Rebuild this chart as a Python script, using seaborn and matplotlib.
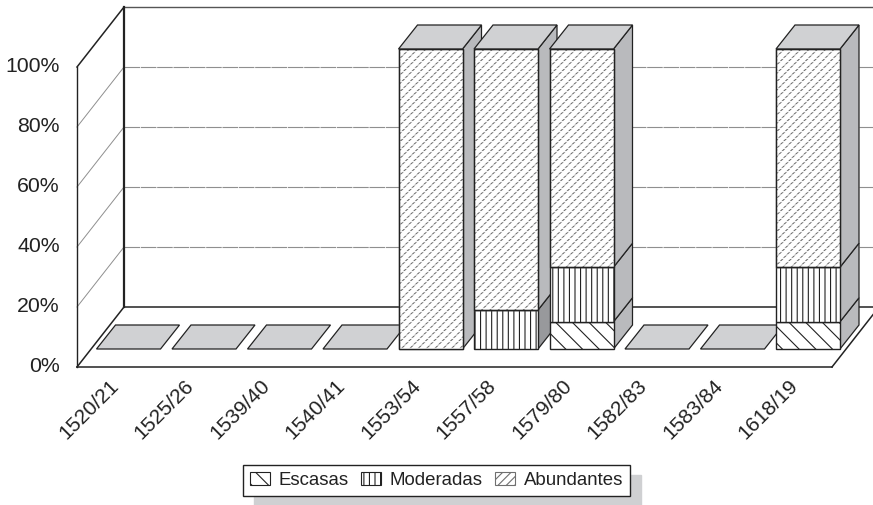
import matplotlib
matplotlib.use("Agg")
import matplotlib.pyplot as plt
import numpy as np
import pandas as pd
import seaborn as sns
from matplotlib.patches import Patch, Polygon, Rectangle
from matplotlib.transforms import Affine2D

# Data
periods = ["1520/21", "1525/26", "1539/40", "1540/41", "1553/54",
           "1557/58", "1579/80", "1582/83", "1583/84", "1618/19"]
escasas = [0, 0, 0, 0, 0, 0, 9.09, 0, 0, 9.09]
moderadas = [0, 0, 0, 0, 0, 13, 18.18, 0, 0, 18.18]
abundantes = [0, 0, 0, 0, 100, 87, 72.73, 0, 0, 72.73]
series_names = ["Escasas", "Moderadas", "Abundantes"]
ytick_values = [0, 20, 40, 60, 80, 100]

# Styling
INK = "#222222"
TOP_FACE = "#d0d1d3"
SIDE_FACE = "#b9babd"
SIDE_DARK = "#98999c"
GRID = "#8f8f8f"
DASH_GREY = "#6f6f6f"
HATCHES = {"Escasas": "\\\\", "Moderadas": "|||", "Abundantes": "////"}
EDGES = {"Escasas": INK, "Moderadas": INK, "Abundantes": DASH_GREY}

sns.set_theme(style="white")
plt.rcParams["font.family"] = ["Liberation Sans", "DejaVu Sans"]
plt.rcParams["hatch.linewidth"] = 0.8

W, H = 873, 505
fig = plt.figure(figsize=(W / 100, H / 100), dpi=100, facecolor="white")
ax = fig.add_axes([77 / W, (H - 367) / H, 755 / W, 300 / H])

PX_X = 10 / 755   # one pixel in x data units
PX_Y = 100 / 300  # one pixel in y data units


def shifted(x, y, dx, dy):
    return x + dx * PX_X, y + dy * PX_Y


def wall_line(x0, y0, x1, y1, **kw):
    kw.setdefault("clip_on", False)
    ax.plot([x0, x1], [y0, y1], solid_capstyle="projecting", **kw)


# Chart box: back wall, side wall and floor
WALL_DX, WALL_DY = 47, 60
left, right = -0.5, 9.5
for v in ytick_values[1:-1]:
    bx0, by0 = shifted(left, v, WALL_DX, WALL_DY)
    bx1, _ = shifted(right, v, WALL_DX, WALL_DY)
    wall_line(left, v, bx0, by0, color=GRID, lw=0.7, zorder=1)
    wall_line(bx0, by0, bx1, by0, color=GRID, lw=0.8, ls=(0, (14, 0.7)), zorder=1)
bx0, btop = shifted(left, 100, WALL_DX, WALL_DY)
bx1, bbot = shifted(right, 0, WALL_DX, WALL_DY)
wall_line(left, 100, bx0, btop, color=INK, lw=1.1, zorder=1.5)
wall_line(bx0, btop, bx1, btop, color="#555555", lw=1.0, zorder=1.5)
wall_line(bx0, btop, bx0, bbot, color=INK, lw=1.6, zorder=1.5)
wall_line(bx0, bbot, bx1, bbot, color=INK, lw=1.1, zorder=1.5)
wall_line(left, 0, left, 100, color=INK, lw=1.0, zorder=1.5)
wall_line(left, 0, bx0, bbot, color=INK, lw=1.1, zorder=1.5)
wall_line(left, 0, right, 0, color=INK, lw=1.1, zorder=1.5)
wall_line(right, 0, bx1, bbot, color=INK, lw=1.1, zorder=1.5)

# Stacked bars
frame = pd.DataFrame({"period": periods, "Escasas": escasas,
                      "Moderadas": moderadas, "Abundantes": abundantes})
FRONT_DX, FRONT_DY = 13.75, 18
DEPTH_DX, DEPTH_DY = 19, 24
bar_width = 64 / 75.5
bar_shift = Affine2D().translate(FRONT_DX, FRONT_DY)
base = np.zeros(len(periods))
segments = []
for name in series_names:
    before = len(ax.patches)
    sns.barplot(data=frame, x="period", y=name, bottom=base, order=periods,
                width=bar_width, color="white", saturation=1, ax=ax,
                edgecolor=EDGES[name], linewidth=1.0, hatch=HATCHES[name],
                errorbar=None, zorder=3)
    for i, patch in enumerate(ax.patches[before:]):
        segments.append((i, name, patch))
    base = base + np.asarray(frame[name], dtype=float)

ax.set_xlim(left, right)
ax.set_ylim(0, 100)

for i, name, patch in segments:
    layer = 3 + i * 0.1
    x0, w = patch.get_x(), patch.get_width()
    y0, h = patch.get_y(), patch.get_height()
    patch.set_transform(ax.transData + bar_shift)
    patch.set_clip_on(False)
    patch.set_zorder(layer + 0.05)
    if h == 0:
        patch.set_visible(False)
        continue
    if name == "Abundantes":
        # white rows break the diagonal lines into short dashes
        ax.add_patch(Rectangle((x0, y0), w, h, facecolor="none", edgecolor="white",
                               hatch="-----", lw=0, clip_on=False,
                               transform=ax.transData + bar_shift, zorder=layer + 0.06))
        ax.add_patch(Rectangle((x0, y0), w, h, facecolor="none", edgecolor=INK, lw=1.0,
                               clip_on=False, transform=ax.transData + bar_shift,
                               zorder=layer + 0.07))
    # side face of the segment
    fx, fy0 = shifted(x0 + w, y0, FRONT_DX, FRONT_DY)
    _, fy1 = shifted(x0 + w, y0 + h, FRONT_DX, FRONT_DY)
    sx, sy0 = shifted(fx, fy0, DEPTH_DX, DEPTH_DY)
    _, sy1 = shifted(fx, fy1, DEPTH_DX, DEPTH_DY)
    shade = SIDE_DARK if (periods[i] == "1557/58" and name == "Moderadas") else SIDE_FACE
    ax.add_patch(Polygon([(fx, fy0), (sx, sy0), (sx, sy1), (fx, fy1)], closed=True,
                         facecolor=shade, edgecolor=INK, lw=0.9, clip_on=False,
                         zorder=layer + 0.02))

# Top face of each stack (flat plates for the empty periods)
for i, total in enumerate(base):
    x0, y0 = shifted(i - bar_width / 2, total, FRONT_DX, FRONT_DY)
    x1, _ = shifted(i + bar_width / 2, total, FRONT_DX, FRONT_DY)
    bx, by = shifted(x0, y0, DEPTH_DX, DEPTH_DY)
    bx2, _ = shifted(x1, y0, DEPTH_DX, DEPTH_DY)
    ax.add_patch(Polygon([(x0, y0), (x1, y0), (bx2, by), (bx, by)], closed=True,
                         facecolor=TOP_FACE, edgecolor=INK, lw=0.9, clip_on=False,
                         zorder=3 + i * 0.1 + 0.03))

# Axes and labels
sns.despine(ax=ax, left=True, bottom=True, top=True, right=True)
ax.set_xlabel("")
ax.set_ylabel("")
ax.patch.set_alpha(0)
ax.set_yticks(ytick_values)
ax.set_yticklabels([f"{v}%" for v in ytick_values], fontsize=15.3, color=INK)
ax.tick_params(axis="y", length=0, pad=12.5)
ax.tick_params(axis="x", length=0, pad=6.5)
ax.set_xticks(range(len(periods)))
ax.set_xticklabels(periods, rotation=45, ha="right", rotation_mode="anchor",
                   fontsize=15, color=INK)
for label in ax.get_yticklabels():
    label.set_transform(label.get_transform() + Affine2D().translate(0, 3))
for label in ax.get_xticklabels():
    label.set_transform(label.get_transform() + Affine2D().translate(-6, 0))

# Legend
handles = [Patch(facecolor="white", edgecolor=EDGES[n], lw=0.8, hatch=HATCHES[n], label=n)
           for n in series_names]
legend = fig.legend(handles=handles, ncol=3, loc="center",
                    bbox_to_anchor=(436.5 / W, (H - 480.5) / H),
                    fontsize=13.4, frameon=True, fancybox=False,
                    edgecolor=INK, framealpha=1, borderpad=0.38, borderaxespad=0,
                    handlelength=1.07, handleheight=0.65, handletextpad=0.48,
                    columnspacing=0.65, labelcolor=INK,
                    shadow={"color": "#cfd0d2", "alpha": 1, "ox": 8, "oy": -7.5})
legend.get_frame().set_linewidth(1.0)

fig.savefig("out.png", dpi=100, facecolor="white")
